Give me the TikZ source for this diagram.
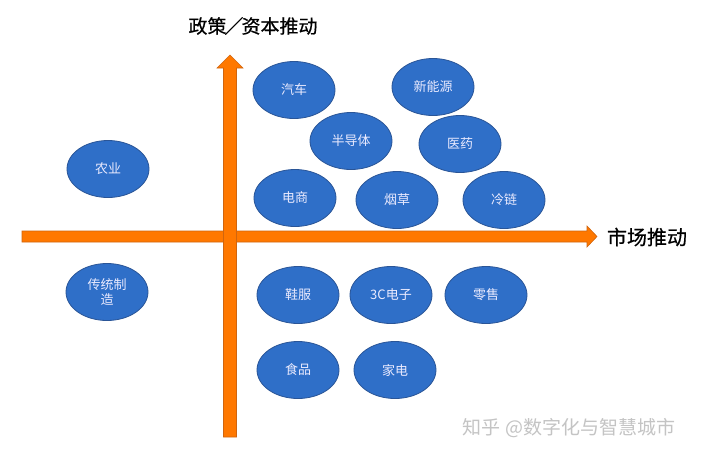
\documentclass[tikz,border=0pt]{standalone}
\usepackage{fontspec}
\setmainfont{Noto Sans CJK SC}
\newfontfamily\lblfont[FakeBold=0.5]{Noto Sans CJK SC}
\usetikzlibrary{shapes.geometric}
\definecolor{blobfill}{HTML}{2F6FC8}
\definecolor{blobline}{HTML}{2A5597}
\definecolor{axisor}{HTML}{FF7800}
\definecolor{axisline}{HTML}{D0650E}
\definecolor{wmark}{HTML}{C4C4C4}
\begin{document}
\begin{tikzpicture}[x=1pt,y=-1pt,
  blob/.style={ellipse, fill=blobfill, draw=blobline, line width=0.8pt,
    minimum width=82pt, minimum height=57pt, inner sep=0pt,
    text=white!92!blue, font=\fontsize{13}{15}\selectfont, align=center},
  axisshape/.style={fill=axisor, draw=axisline, line width=0.6pt},
  lbl/.style={font=\lblfont\fontsize{20}{24}\selectfont, text=black, inner sep=0pt},
  wm/.style={font=\fontsize{19}{22}\selectfont, text=wmark, inner sep=0pt}]
\useasboundingbox[fill=white] (0,0) rectangle (702,456);
% horizontal axis (market)
\filldraw[axisshape] (22,231) -- (587,231) -- (587,226) -- (597,236.5)
  -- (587,247) -- (587,242) -- (22,242) -- cycle;
% vertical axis (policy/capital)
\filldraw[axisshape] (223.5,437) -- (223.5,68) -- (217,68) -- (230,55)
  -- (243,68) -- (236.5,68) -- (236.5,437) -- cycle;
% axis labels
\node[lbl, font=\lblfont\fontsize{19}{22}\selectfont] (ylab) at (253,26) {政策\kern-2pt／\kern-2pt资本推动};
\node[lbl] (xlab) at (647,237) {市场推动};
% ellipses
\node[blob] (qiche)   at (294,90)  {汽车};
\node[blob] (xny)     at (433,87)  {新能源};
\node[blob] (bdt)     at (351,141) {半导体};
\node[blob] (yiyao)   at (460,144) {医药};
\node[blob] (dianshang) at (295,198) {电商};
\node[blob] (yancao)  at (397,200) {烟草};
\node[blob] (lenglian) at (504,200) {冷链};
\node[blob] (nongye)  at (108,169) {农业};
\node[blob] (ctzz)    at (107,292) {传统制\\造};
\node[blob] (xiefu)   at (298,295) {鞋服};
\node[blob] (dianzi)  at (391,295) {3C电子};
\node[blob] (lingshou) at (486,295) {零售};
\node[blob] (shipin)  at (298,370) {食品};
\node[blob] (jiadian) at (395,370) {家电};
% watermark
\node[wm] (mark) at (569,428) {知乎 @数字化与智慧城市};
\end{tikzpicture}
\end{document}
